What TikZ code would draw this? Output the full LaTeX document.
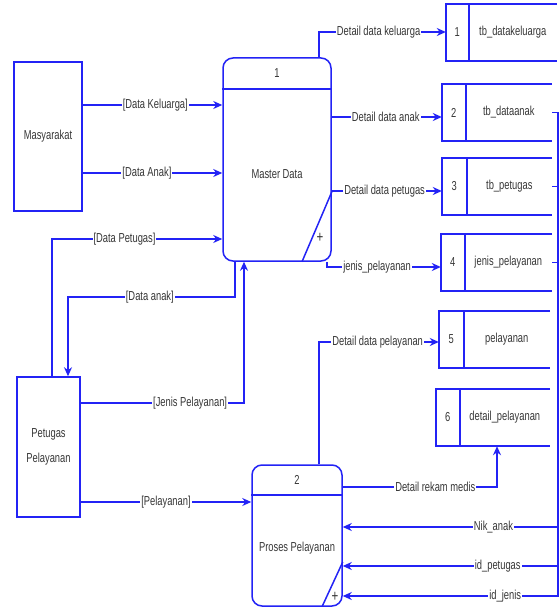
\documentclass[tikz,border=0pt]{standalone}
\usepackage{fontspec}
\setmainfont[FakeStretch=0.72]{Liberation Sans}
\usetikzlibrary{arrows.meta}
\definecolor{dfd}{RGB}{35,35,245}
\definecolor{txt}{RGB}{55,55,55}
\begin{document}
\begin{tikzpicture}[x=1pt,y=-1pt,
  every node/.style={font=\fontsize{13}{14}\selectfont, text=txt},
  ln/.style={draw=dfd, line width=1.5pt},
  flow/.style={ln, -{Stealth[length=9pt,width=8pt]}},
  lbl/.style={fill=white, inner sep=1pt},
  ent/.style={ln, rectangle, inner sep=0pt},
  proc/.style={ln, rectangle, rounded corners=10pt, inner sep=0pt},
  storebox/.style={rectangle, inner sep=0pt, minimum height=57pt},
  plussign/.style={font=\fontsize{16}{16}\selectfont}
]
\useasboundingbox (0,0) rectangle (559,607);

% external entities
\node[ent, minimum width=68pt, minimum height=149pt] (mas) at (48,136.5) {Masyarakat};
\node[ent, minimum width=63pt, minimum height=140pt, align=center] (pet) at (48.5,447) {Petugas\\[11pt]Pelayanan};

% process 1
\node[proc, minimum width=108pt, minimum height=203pt] (p1) at (277,159.5) {};
\draw[ln] (p1.west |- 0,89) -- (p1.east |- 0,89);
\draw[ln] (p1.south -| 302,0) -- (p1.east |- 0,192);
\node (p1n) at (277,73) {1};
\node (p1t) at (277,174) {Master Data};
\node[plussign] (p1p) at (320,238) {+};

% process 2
\node[proc, minimum width=90pt, minimum height=141pt] (p2) at (297,535.5) {};
\draw[ln] (p2.west |- 0,495) -- (p2.east |- 0,495);
\draw[ln] (p2.south -| 322,0) -- (p2.east |- 0,562);
\node (p2n) at (297,480) {2};
\node (p2t) at (297,548) {Proses Pelayanan};
\node[plussign] (p2p) at (335,597) {+};

% data stores
\foreach \i/\l/\r/\t/\d/\name in {
 1/446/557/4/23/tb\_datakeluarga,
 2/442/552/84/24/tb\_dataanak,
 3/442/552/158/25/tb\_petugas,
 4/441/552/234/24/jenis\_pelayanan,
 5/439/550/311/25/pelayanan,
 6/436/550/389/24/detail\_pelayanan}{
  \node[storebox, minimum width={(\r-\l)*1pt}] (s\i) at ({(\l+\r)/2},{\t+28.5}) {};
  \draw[ln] (s\i.north east) -- (s\i.north west) -- (s\i.south west) -- (s\i.south east);
  \draw[ln] ([xshift=\d pt]s\i.north west) -- ([xshift=\d pt]s\i.south west);
  \node (s\i n) at ([xshift={\d/2*1pt}]s\i.west) {\i};
  \node (s\i t) at ([xshift={(\d+\r-\l)/2*1pt}]s\i.west) {\name};
}

% flows into Master Data
\draw[flow] (mas.east |- 0,105) -- node[lbl, pos=0.52]{[Data Keluarga]} (p1.west |- 0,105);
\draw[flow] (mas.east |- 0,173) -- node[lbl, pos=0.46]{[Data Anak]} (p1.west |- 0,173);
\draw[flow] (pet.north -| 52,0) |- node[lbl, pos=0.713]{[Data Petugas]} (p1.west |- 0,239);
\draw[flow] (p1.south -| 235,0) |- node[lbl, pos=0.755]{[Data anak]} (68,297) -- (pet.north -| 68,0);
\draw[flow] (pet.east |- 0,403) -| node[lbl, pos=0.335]{[Jenis Pelayanan]} (p1.south -| 244,0);
\draw[flow] (pet.east |- 0,502) -- node[lbl, pos=0.5]{[Pelayanan]} (p2.west |- 0,502);

% flows from Master Data to stores
\draw[flow] (p1.north -| 319,0) |- node[lbl, pos=0.735]{Detail data keluarga} (s1.west |- 0,32);
\draw[flow] (p1.east |- 0,117) -- node[lbl, pos=0.49]{Detail data anak} (s2.west |- 0,117);
\draw[flow] (p1.east |- 0,191) -- node[lbl, pos=0.48]{Detail data petugas} (s3.west |- 0,191);
\draw[flow] (p1.south -| 327,0) |- node[lbl, pos=0.72]{jenis\_pelayanan} (s4.west |- 0,267);

% flows of Proses Pelayanan
\draw[flow] (p2.north -| 319,0) |- node[lbl, pos=0.745]{Detail data pelayanan} (s5.west |- 0,342);
\draw[flow] (p2.east |- 0,487) -| node[lbl, pos=0.30]{Detail rekam medis} (s6.south -| 497,0);
\draw[flow] (s2.east) -| (558,527) -- node[lbl, pos=0.30]{Nik\_anak} (p2.east |- 0,527);
\draw[flow] (s3.east) -| (558,566) -- node[lbl, pos=0.28]{id\_petugas} (p2.east |- 0,566);
\draw[flow] (s4.east) -| (558,596) -- node[lbl, pos=0.245]{id\_jenis} (p2.east |- 0,596);
\end{tikzpicture}
\end{document}
